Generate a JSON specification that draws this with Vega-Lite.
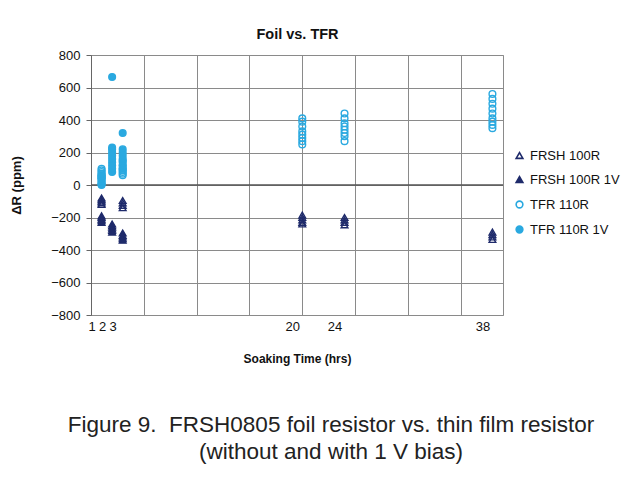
{
  "$schema": "https://vega.github.io/schema/vega-lite/v6.json",
  "width": 412,
  "height": 260,
  "autosize": {"type": "none"},
  "padding": {"left": 91, "top": 55, "right": 141, "bottom": 164},
  "background": "white",
  "config": {"view": {"stroke": "#8a8a8a", "strokeWidth": 1}, "font": "Liberation Sans"},
  "title": {
    "text": ["Figure 9.\u00a0 FRSH0805 foil resistor vs. thin film resistor", "(without and with 1 V bias)"],
    "orient": "bottom", "anchor": "middle", "frame": "group",
    "fontSize": 22.5, "fontWeight": "normal", "font": "Liberation Sans", "lineHeight": 27,
    "color": "#222", "offset": 50, "dx": 34
  },
  "data": {"values": [
    {"t":1,"r":-80,"s":"FRSH 100R"},{"t":1,"r":-90,"s":"FRSH 100R"},{"t":1,"r":-100,"s":"FRSH 100R"},{"t":1,"r":-110,"s":"FRSH 100R"},{"t":1,"r":-120,"s":"FRSH 100R"},
    {"t":3,"r":-95,"s":"FRSH 100R"},{"t":3,"r":-110,"s":"FRSH 100R"},{"t":3,"r":-125,"s":"FRSH 100R"},{"t":3,"r":-140,"s":"FRSH 100R"},
    {"t":20,"r":-185,"s":"FRSH 100R"},{"t":20,"r":-200,"s":"FRSH 100R"},{"t":20,"r":-215,"s":"FRSH 100R"},{"t":20,"r":-230,"s":"FRSH 100R"},{"t":20,"r":-240,"s":"FRSH 100R"},
    {"t":24,"r":-200,"s":"FRSH 100R"},{"t":24,"r":-215,"s":"FRSH 100R"},{"t":24,"r":-230,"s":"FRSH 100R"},{"t":24,"r":-245,"s":"FRSH 100R"},
    {"t":38,"r":-290,"s":"FRSH 100R"},{"t":38,"r":-305,"s":"FRSH 100R"},{"t":38,"r":-320,"s":"FRSH 100R"},{"t":38,"r":-335,"s":"FRSH 100R"},
    {"t":1,"r":-190,"s":"FRSH 100R 1V"},{"t":1,"r":-200,"s":"FRSH 100R 1V"},{"t":1,"r":-210,"s":"FRSH 100R 1V"},{"t":1,"r":-220,"s":"FRSH 100R 1V"},{"t":1,"r":-230,"s":"FRSH 100R 1V"},
    {"t":2,"r":-240,"s":"FRSH 100R 1V"},{"t":2,"r":-250,"s":"FRSH 100R 1V"},{"t":2,"r":-260,"s":"FRSH 100R 1V"},{"t":2,"r":-270,"s":"FRSH 100R 1V"},{"t":2,"r":-280,"s":"FRSH 100R 1V"},{"t":2,"r":-290,"s":"FRSH 100R 1V"},
    {"t":3,"r":-295,"s":"FRSH 100R 1V"},{"t":3,"r":-310,"s":"FRSH 100R 1V"},{"t":3,"r":-320,"s":"FRSH 100R 1V"},{"t":3,"r":-330,"s":"FRSH 100R 1V"},{"t":3,"r":-340,"s":"FRSH 100R 1V"},
    {"t":1,"r":100,"s":"TFR 110R"},{"t":1,"r":90,"s":"TFR 110R"},{"t":1,"r":80,"s":"TFR 110R"},{"t":1,"r":70,"s":"TFR 110R"},{"t":1,"r":60,"s":"TFR 110R"},{"t":1,"r":50,"s":"TFR 110R"},{"t":1,"r":40,"s":"TFR 110R"},
    {"t":3,"r":60,"s":"TFR 110R"},{"t":3,"r":70,"s":"TFR 110R"},{"t":3,"r":80,"s":"TFR 110R"},{"t":3,"r":90,"s":"TFR 110R"},{"t":3,"r":100,"s":"TFR 110R"},{"t":3,"r":120,"s":"TFR 110R"},{"t":3,"r":150,"s":"TFR 110R"},
    {"t":20,"r":250,"s":"TFR 110R"},{"t":20,"r":270,"s":"TFR 110R"},{"t":20,"r":290,"s":"TFR 110R"},{"t":20,"r":310,"s":"TFR 110R"},{"t":20,"r":330,"s":"TFR 110R"},{"t":20,"r":360,"s":"TFR 110R"},{"t":20,"r":390,"s":"TFR 110R"},{"t":20,"r":410,"s":"TFR 110R"},
    {"t":24,"r":270,"s":"TFR 110R"},{"t":24,"r":300,"s":"TFR 110R"},{"t":24,"r":320,"s":"TFR 110R"},{"t":24,"r":340,"s":"TFR 110R"},{"t":24,"r":360,"s":"TFR 110R"},{"t":24,"r":380,"s":"TFR 110R"},{"t":24,"r":410,"s":"TFR 110R"},{"t":24,"r":440,"s":"TFR 110R"},
    {"t":38,"r":350,"s":"TFR 110R"},{"t":38,"r":370,"s":"TFR 110R"},{"t":38,"r":390,"s":"TFR 110R"},{"t":38,"r":410,"s":"TFR 110R"},{"t":38,"r":440,"s":"TFR 110R"},{"t":38,"r":470,"s":"TFR 110R"},{"t":38,"r":500,"s":"TFR 110R"},{"t":38,"r":530,"s":"TFR 110R"},{"t":38,"r":560,"s":"TFR 110R"},
    {"t":1,"r":0,"s":"TFR 110R 1V"},{"t":1,"r":5,"s":"TFR 110R 1V"},{"t":1,"r":10,"s":"TFR 110R 1V"},{"t":1,"r":20,"s":"TFR 110R 1V"},{"t":1,"r":30,"s":"TFR 110R 1V"},{"t":1,"r":40,"s":"TFR 110R 1V"},{"t":1,"r":50,"s":"TFR 110R 1V"},{"t":1,"r":60,"s":"TFR 110R 1V"},
    {"t":2,"r":80,"s":"TFR 110R 1V"},{"t":2,"r":100,"s":"TFR 110R 1V"},{"t":2,"r":120,"s":"TFR 110R 1V"},{"t":2,"r":140,"s":"TFR 110R 1V"},{"t":2,"r":160,"s":"TFR 110R 1V"},{"t":2,"r":180,"s":"TFR 110R 1V"},{"t":2,"r":200,"s":"TFR 110R 1V"},{"t":2,"r":220,"s":"TFR 110R 1V"},{"t":2,"r":230,"s":"TFR 110R 1V"},{"t":2,"r":665,"s":"TFR 110R 1V"},
    {"t":3,"r":100,"s":"TFR 110R 1V"},{"t":3,"r":120,"s":"TFR 110R 1V"},{"t":3,"r":140,"s":"TFR 110R 1V"},{"t":3,"r":160,"s":"TFR 110R 1V"},{"t":3,"r":180,"s":"TFR 110R 1V"},{"t":3,"r":200,"s":"TFR 110R 1V"},{"t":3,"r":220,"s":"TFR 110R 1V"},{"t":3,"r":320,"s":"TFR 110R 1V"}
  ]},
  "resolve": {"axis": {"x": "independent"}},
  "layer": [
    {
      "data": {"values": [{}]},
      "mark": {"type": "rule", "color": "#555555", "strokeWidth": 1.5},
      "encoding": {
        "x": {"datum": 0, "type": "quantitative", "scale": {"domain": [0, 39], "nice": false},
          "axis": {"orient": "top", "values": [0,5,10,15,20,25,30,35], "grid": true, "gridColor": "#8a8a8a", "gridOpacity": 1,
            "labels": false, "ticks": false, "domain": false, "title": "Foil vs. TFR", "titleFontSize": 14.5, "titleFontWeight": "bold",
            "titleColor": "#111", "titlePadding": 14}},
        "x2": {"datum": 39},
        "y": {"datum": 0, "type": "quantitative", "scale": {"domain": [-800, 800], "nice": false},
          "axis": {"values": [-800,-600,-400,-200,0,200,400,600,800], "grid": true, "gridColor": "#8a8a8a", "gridOpacity": 1,
            "labelOverlap": false, "tickSize": 5, "tickColor": "#666", "domainColor": "#666", "labelFontSize": 13, "labelColor": "#111", "labelPadding": 6,
            "title": "ΔR (ppm)", "titleFontSize": 13, "titleFontWeight": "bold", "titleColor": "#111", "titlePadding": 27}}
      }
    },
    {
      "mark": {"type": "point", "size": 45, "strokeWidth": 1.4, "opacity": 1},
      "encoding": {
        "x": {"field": "t", "type": "quantitative", "scale": {"domain": [0, 39], "nice": false},
          "axis": {"values": [1,2,3,20,24,38], "grid": false, "ticks": false, "domain": false, "labelOffset": -10,
            "labelOverlap": false, "labelFlush": false, "labelFontSize": 13, "labelColor": "#111", "labelPadding": 5,
            "title": "Soaking Time (hrs)", "titleFontSize": 12, "titleFontWeight": "bold", "titleColor": "#111", "titlePadding": 20}},
        "y": {"field": "r", "type": "quantitative", "scale": {"domain": [-800, 800], "nice": false},
          "axis": {"values": [-800,-600,-400,-200,0,200,400,600,800], "grid": true, "gridColor": "#8a8a8a", "gridOpacity": 1,
            "labelOverlap": false, "tickSize": 5, "tickColor": "#666", "domainColor": "#666", "labelFontSize": 13, "labelColor": "#111", "labelPadding": 6,
            "title": "ΔR (ppm)", "titleFontSize": 13, "titleFontWeight": "bold", "titleColor": "#111", "titlePadding": 27}},
        "shape": {"field": "s", "type": "nominal",
          "scale": {"domain": ["FRSH 100R","FRSH 100R 1V","TFR 110R","TFR 110R 1V"], "range": ["triangle-up","triangle-up","circle","circle"]},
          "legend": {"title": null, "orient": "none", "legendX": 422, "legendY": 94, "labelFontSize": 13, "labelColor": "#111",
            "symbolSize": 45, "symbolStrokeWidth": 1.6, "rowPadding": 10, "labelOffset": 4, "padding": 0}},
        "stroke": {"field": "s", "type": "nominal",
          "scale": {"domain": ["FRSH 100R","FRSH 100R 1V","TFR 110R","TFR 110R 1V"], "range": ["#1f2b6b","#1f2b6b","#2aa9e0","#2aa9e0"]},
          "legend": {"title": null, "orient": "none", "legendX": 422, "legendY": 94, "labelFontSize": 13, "labelColor": "#111",
            "symbolSize": 45, "symbolStrokeWidth": 1.6, "rowPadding": 10, "labelOffset": 4, "padding": 0}},
        "fill": {"field": "s", "type": "nominal",
          "scale": {"domain": ["FRSH 100R","FRSH 100R 1V","TFR 110R","TFR 110R 1V"], "range": ["transparent","#1f2b6b","transparent","#2aa9e0"]},
          "legend": {"title": null, "orient": "none", "legendX": 422, "legendY": 94, "labelFontSize": 13, "labelColor": "#111",
            "symbolSize": 45, "symbolStrokeWidth": 1.6, "rowPadding": 10, "labelOffset": 4, "padding": 0}}
      }
    }
  ]
}
